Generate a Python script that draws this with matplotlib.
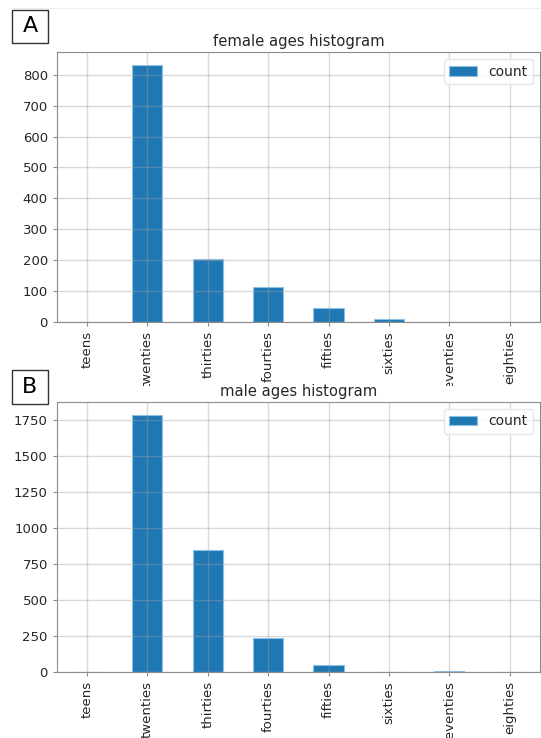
import matplotlib
matplotlib.use('Agg')
import matplotlib.pyplot as plt
from matplotlib.patches import Rectangle
import numpy as np

ages = ['teens', 'twenties', 'thirties', 'fourties', 'fifties', 'sixties', 'seventies', 'eighties']
female_counts = [0, 832, 205, 113, 45, 9, 0, 0]
male_counts = [0, 1785, 850, 237, 51, 0, 8, 0]

text_col = '#262626'
bar_col = '#1f77b4'
W, H = 541, 738


def draw_hist(ax, counts, title):
    x = np.arange(len(ages))
    ax.bar(x, counts, width=0.5, color=bar_col, edgecolor='#8fc0e6', linewidth=0.8, label='count')
    ax.set_xlim(-0.5, len(ages) - 0.5)
    ax.set_ylim(0, max(counts) * 1.05)
    ax.set_xticks(x)
    ax.set_xticklabels(ages, rotation=90)
    ax.grid(True, color='#a0a0a0', alpha=0.4, linewidth=1.0)
    ax.set_axisbelow(False)
    for s in ax.spines.values():
        s.set_color('#8c8c8c')
    ax.tick_params(labelsize=9.5, colors=text_col, length=3, color='#8c8c8c')
    ax.set_title(title, fontsize=10.6, color=text_col, pad=4)
    leg = ax.legend(loc='upper right', fontsize=10, frameon=True)
    leg.get_frame().set_edgecolor('#e0e0e0')
    for t in leg.get_texts():
        t.set_color(text_col)


fig = plt.figure(figsize=(W / 100, H / 100), dpi=100)
ax1 = fig.add_axes([0.105, 0.5637, 0.893, 0.3658])
ax2 = fig.add_axes([0.105, 0.0894, 0.893, 0.3659])

draw_hist(ax1, female_counts, 'female ages histogram')
draw_hist(ax2, male_counts, 'male ages histogram')

# lower panel covers the bottom of the upper one, as in the pasted figure
fig.patches.append(Rectangle((0, 0), 1, 1 - 386 / H, transform=fig.transFigure,
                             facecolor='white', edgecolor='none', zorder=1))
ax2.set_zorder(2)

# thin frame line at the top of the picture
fig.add_artist(plt.Line2D([0.02, 1], [1 - 8 / H] * 2, color='#eeeeee', linewidth=0.8))

# panel letters in boxes (pixel boxes: x0, y0, x1, y1 from top-left)
for lab, (x0, y0, x1, y1) in [('A', (12, 10, 48, 43)), ('B', (12, 370, 48, 404))]:
    fig.patches.append(Rectangle((x0 / W, 1 - y1 / H), (x1 - x0) / W, (y1 - y0) / H,
                                 transform=fig.transFigure, facecolor='white',
                                 edgecolor='#333333', linewidth=1, zorder=4))
    fig.text((x0 + x1) / 2 / W, 1 - (y0 + y1) / 2 / H, lab, fontsize=16, va='center',
             ha='center', color='black', zorder=5)

fig.savefig('out.png', dpi=100)
